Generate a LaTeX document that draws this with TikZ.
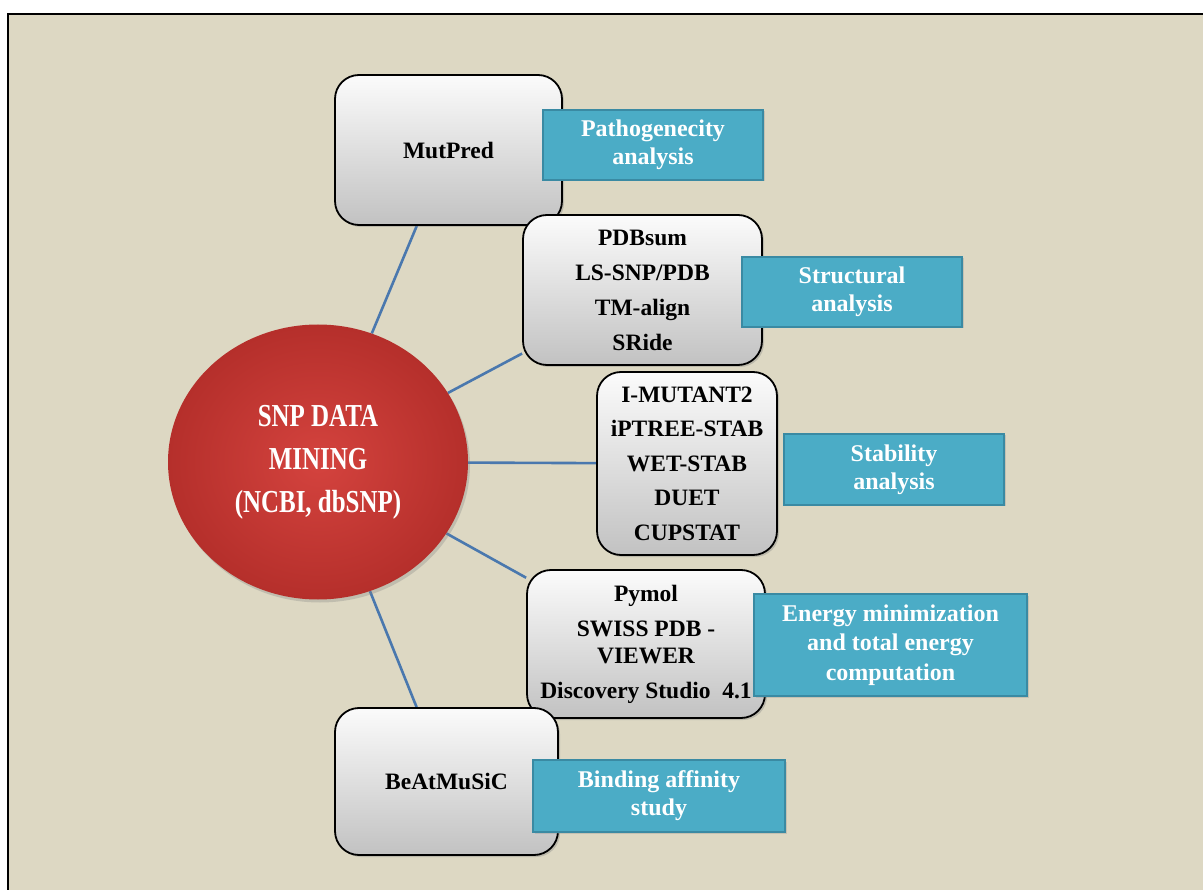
\documentclass[tikz,border=0pt]{standalone}
\usepackage{fontspec}
\setmainfont{Liberation Serif}
\usetikzlibrary{shapes.geometric,shadows,backgrounds}
\definecolor{bgc}{HTML}{DDD8C3}
\definecolor{tealfill}{HTML}{4BACC6}
\definecolor{tealline}{HTML}{3A8AA3}
\definecolor{linkc}{HTML}{4A78AE}
\definecolor{redin}{HTML}{D4433E}
\definecolor{redout}{HTML}{B52F2B}
\begin{document}
\begin{tikzpicture}[x=1pt,y=-1pt,
  toolbox/.style={draw=black, line width=1.8pt, rounded corners=24pt,
    top color=white!97!gray, bottom color=gray!48, inner sep=0pt, align=center,
    font=\bfseries\fontsize{23.5}{35}\selectfont,
    drop shadow={opacity=0.35,shadow xshift=2pt,shadow yshift=-2pt}},
  tagbox/.style={draw=tealline, line width=2pt, fill=tealfill, text=white,
    inner sep=0pt, align=center, font=\bfseries\fontsize{24}{28}\selectfont,
    drop shadow={opacity=0.25,shadow xshift=1.5pt,shadow yshift=-1.5pt}},
  hub/.style={ellipse, inner sep=0pt, minimum width=300pt, minimum height=275pt,
    inner color=redin, outer color=redout, text=white, align=center,
    font=\bfseries\fontsize{32}{43}\selectfont,
    drop shadow={opacity=0.3,shadow xshift=2pt,shadow yshift=-3pt}},
  link/.style={draw=linkc, line width=2.6pt}]

\useasboundingbox (0,0) rectangle (1203,890);

\node[hub] (circ) at (318,462)
  {\scalebox{0.78}[1]{SNP DATA}\\\scalebox{0.78}[1]{MINING}\\\scalebox{0.78}[1]{(NCBI, dbSNP)}};

\node[toolbox, minimum width=227pt, minimum height=150pt] (mut) at (448.5,150) {MutPred};
\node[toolbox, minimum width=239pt, minimum height=150pt] (pdb) at (642.5,290)
  {PDBsum\\LS-SNP/PDB\\TM-align\\SRide};
\node[toolbox, minimum width=180pt, minimum height=183pt, font=\bfseries\fontsize{23.5}{34.5}\selectfont] (imut) at (687,463.5)
  {I-MUTANT2\\iPTREE-STAB\\WET-STAB\\DUET\\CUPSTAT};
\node[toolbox, minimum width=238pt, minimum height=148pt] (pym) at (646,644)
  {Pymol\\SWISS PDB -\\[-8pt]VIEWER\\Discovery Studio\ \ 4.1};
\node[toolbox, minimum width=223pt, minimum height=147pt] (beat) at (446.5,781.5) {BeAtMuSiC};

\node[tagbox, minimum width=220pt, minimum height=70pt] (tpath) at (653,145) {Pathogenecity\\analysis};
\node[tagbox, minimum width=220pt, minimum height=70pt] (tstruct) at (852,292) {Structural\\analysis};
\node[tagbox, minimum width=220pt, minimum height=71pt] (tstab) at (894,469.5) {Stability\\analysis};
\node[tagbox, minimum width=273pt, minimum height=102pt, font=\bfseries\fontsize{24}{29.5}\selectfont] (tenergy) at (890.5,645)
  {Energy minimization\\and total energy\\computation};
\node[tagbox, minimum width=252pt, minimum height=72pt] (tbind) at (659,796) {Binding affinity\\study};

\begin{scope}[on background layer]
  \fill[bgc] (8,14) rectangle (1203,890);
  \draw[line width=2pt] (8,890) -- (8,14) -- (1203,14);
  \draw[link] (circ) -- (mut);
  \draw[link] (circ) -- (pdb);
  \draw[link] (circ) -- (imut);
  \draw[link] (circ) -- (pym);
  \draw[link] (circ) -- (beat);
\end{scope}
\end{tikzpicture}
\end{document}
